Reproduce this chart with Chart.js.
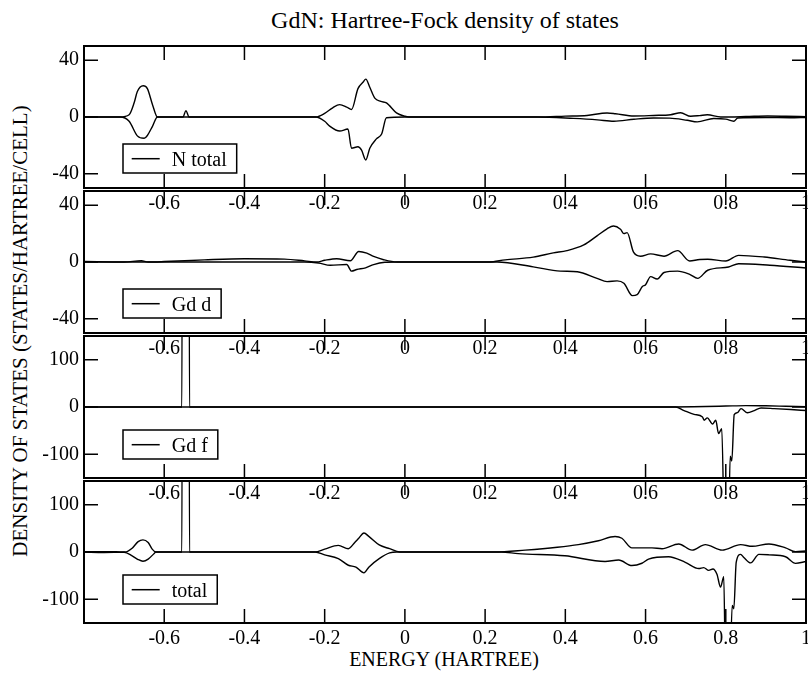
<!DOCTYPE html>
<html>
<head>
<meta charset="utf-8">
<script src="https://cdn.jsdelivr.net/npm/chart.js@4/dist/chart.umd.min.js"></script>
<style>
  html, body { margin: 0; padding: 0; background: #fff; }
  body { width: 808px; height: 673px; overflow: hidden; position: relative; font-family: "Liberation Serif", "Times New Roman", Times, serif; color: #000; }
  .panel { position: absolute; left: 0; }
  .txt { position: absolute; white-space: nowrap; line-height: 1; transform: translate(-50%, -50%); }
  #ytitle { transform: translate(-50%, -50%) rotate(-90deg); }
</style>
</head>
<body>
<div class="txt" id="title" style="left:445px; top:20px; font-size:24px;">GdN: Hartree-Fock density of states</div>
<div class="txt" id="ytitle" style="left:20px; top:331px; font-size:21px;">DENSITY OF STATES (STATES/HARTREE/CELL)</div>
<div class="txt" id="xtitle" style="left:444px; top:659px; font-size:20px;">ENERGY (HARTREE)</div>
<script>
// N total, spin up / spin down
const nUpE = [-0.8, -0.71, -0.6875, -0.675, -0.667, -0.6525, -0.642, -0.629, -0.617, -0.553, -0.546, -0.538, -0.222, -0.2, -0.18, -0.1625, -0.145, -0.133, -0.117, -0.104, -0.0975, -0.0875, -0.075, -0.06, -0.046, -0.021, 0, 0.01, 0.33, 0.4, 0.454, 0.504, 0.525, 0.571, 0.62, 0.6625, 0.6875, 0.7125, 0.735, 0.754, 0.7875, 0.85, 0.904, 0.95, 1.0];
const nUpV = [0, 0, 1.6, 10, 17.9, 22, 20, 8.5, 0, 0, 4.5, 0, 0, 2.5, 6.5, 8.7, 7, 5.3, 20, 24.6, 26.7, 21, 13.3, 11, 9.9, 2.9, 0.5, 0, 0, 0.6, 1.1, 2.8, 2.3, 0.7, 1.1, 1.6, 3, 0.5, 1, 1.6, 0, 0.3, 0.7, 0.5, 0.2];
const nDnE = [-0.8, -0.71, -0.6875, -0.667, -0.65, -0.642, -0.629, -0.617, -0.222, -0.2, -0.1875, -0.1625, -0.142, -0.133, -0.117, -0.108, -0.0975, -0.0875, -0.071, -0.058, -0.046, 0, 0.33, 0.42, 0.48, 0.521, 0.571, 0.62, 0.66, 0.704, 0.729, 0.77, 0.8, 0.82, 0.83, 0.9, 0.96, 1.0];
const nDnV = [0, 0, -3, -13.3, -15, -13, -6.4, 0, 0, -3, -6.4, -9.9, -8.5, -22, -21, -23.4, -30.3, -22, -15.4, -12, -0.5, 0, 0, -1, -2, -3, -1.6, -0.7, -0.8, -2.3, -3.4, -1.1, -1.5, -3, -0.7, -0.4, -0.5, -0.3];

// Gd d
const dUpE = [-0.8, -0.7, -0.657, -0.64, -0.6, -0.5, -0.4, -0.3, -0.25, -0.22, -0.2, -0.17, -0.136, -0.115, -0.095, -0.078, -0.053, -0.02, 0.21, 0.25, 0.32, 0.37, 0.404, 0.446, 0.479, 0.504, 0.52, 0.5375, 0.546, 0.554, 0.57, 0.5875, 0.6125, 0.646, 0.68, 0.71, 0.735, 0.755, 0.8, 0.832, 0.896, 0.96, 1.0];
const dUpV = [0.3, 0, 0.9, 0, 0.3, 1.5, 2.3, 2, 0.8, 0, 1.2, 2.3, 0.9, 7.4, 6.2, 3.9, 1.6, 0, 0, 1.5, 3.4, 6.4, 8, 12, 18.4, 23.4, 25.3, 23, 20, 20.7, 6.9, 4.1, 5.7, 4.1, 8, 0.7, 1.8, 1.9, 0.7, 4.7, 3.5, 1.2, 0];
const dDnE = [-0.8, -0.25, -0.215, -0.186, -0.145, -0.133, -0.12, -0.098, -0.078, -0.05, -0.02, 0.23, 0.32, 0.3875, 0.43, 0.479, 0.504, 0.529, 0.546, 0.567, 0.579, 0.592, 0.6, 0.6125, 0.629, 0.646, 0.68, 0.71, 0.73, 0.755, 0.807, 0.832, 0.91, 1.0];
const dDnV = [0, 0, -0.7, -2.3, -1.8, -6.4, -5.3, -4.1, -1.8, -0.2, 0, 0, -3.4, -6.4, -6.9, -11.5, -13.8, -13.3, -15, -23.7, -23, -17.2, -16, -10.3, -12, -7.4, -6.4, -8.7, -11.5, -5.8, -3.5, -1.2, -2.3, -4.2];

// Gd f
const fUpE = [-0.8, -0.556, -0.5545, -0.5385, -0.537, 0.65, 0.75, 0.8, 0.85, 0.9, 0.95, 1.0];
const fUpV = [0, 0, 700, 700, 0, 0, 1, 2, 3, 2.5, 1.5, 0.5];
const fDnE = [-0.8, 0.675, 0.696, 0.721, 0.742, 0.746, 0.754, 0.767, 0.775, 0.782, 0.79, 0.7975, 0.806, 0.811, 0.815, 0.821, 0.829, 0.838, 0.854, 0.871, 0.888, 0.921, 0.962, 1.0];
const fDnV = [0, 0, -7.5, -15.6, -21, -28, -23, -36, -28, -56, -46, -300, -300, -104, -114, -16, -12, -3.4, -12, -7.5, -2, -3.4, -5.4, -7.5];

// total
const tUpE = [-0.8, -0.72, -0.698, -0.68, -0.665, -0.653, -0.64, -0.63, -0.621, -0.556, -0.5545, -0.5385, -0.537, -0.224, -0.2, -0.166, -0.141, -0.125, -0.115, -0.102, -0.09, -0.064, -0.038, -0.013, 0.224, 0.3, 0.38, 0.4325, 0.4825, 0.524, 0.541, 0.566, 0.616, 0.641, 0.6825, 0.716, 0.749, 0.791, 0.837, 0.866, 0.9075, 0.949, 0.974, 1.0];
const tUpV = [0.5, 0.5, 0, 8, 22, 25.7, 20, 6, 0, 0, 700, 700, 0, 0, 6, 14, 7, 20, 29, 40, 33, 15, 7, 0, 0, 4, 10, 15.6, 23.8, 32.6, 29, 8.8, 8.8, 6.8, 17, 4, 15.6, 4, 15.6, 12, 17, 8.8, 0.7, 2];
const tDnE = [-0.8, -0.75, -0.7, -0.68, -0.665, -0.653, -0.64, -0.625, -0.621, -0.224, -0.2, -0.166, -0.141, -0.122, -0.102, -0.09, -0.064, -0.038, -0.02, 0.24, 0.2825, 0.399, 0.499, 0.533, 0.566, 0.591, 0.6075, 0.6575, 0.699, 0.7325, 0.745, 0.7575, 0.768, 0.778, 0.787, 0.795, 0.8, 0.809, 0.816, 0.82, 0.826, 0.837, 0.845, 0.862, 0.8825, 0.9075, 0.949, 0.974, 1.0];
const tDnV = [0, -1, -0.5, -8, -16, -19.4, -15, -3, 0, 0, -6, -14, -28, -32, -44, -32, -14, -2, 0, 0, -3.4, -8, -20, -17, -28.6, -23.8, -15, -10, -21.8, -35, -33, -38.8, -36, -47, -74, -52, -300, -300, -113, -120, -22, -5, -11.6, -23, -5, -6, -10, -24, -20];

const legendNames = ['N total', 'Gd d', 'Gd f', 'total'];
const yRanges = [50, 50, 150, 150];
const yTickSteps = [10, 10, 50, 50];
const yMinorSteps = [20, 20, 50, 50];
const yMajorSteps = [40, 40, 100, 100];

// layout
const panelTops = [43, 188, 333, 478];
const panelHeight = 145;
const padTop = 14;
const xAxisHeight = 34;
const legendGaps = [15, 15, 19, 19];
const serif = '"Liberation Serif", "Times New Roman", Times, serif';

const pts = (e, v) => e.map((x, i) => ({ x: x, y: v[i] }));
const series = [
    [pts(nUpE, nUpV), pts(nDnE, nDnV)],
    [pts(dUpE, dUpV), pts(dDnE, dDnV)],
    [pts(fUpE, fUpV), pts(fDnE, fDnV)],
    [pts(tUpE, tUpV), pts(tDnE, tDnV)],
];

Chart.defaults.font.family = serif;
Chart.defaults.font.size = 20;
Chart.defaults.color = '#000';

const framePlugin = {
    id: 'frame',
    afterDatasetsDraw(chart, args, opts) {
        const { ctx, chartArea: a, scales: { x, y } } = chart;
        ctx.save();
        ctx.strokeStyle = '#000';
        ctx.lineWidth = 1.5;
        ctx.beginPath();
        for (const t of x.ticks) {
            const n = Math.round(t.value * 10);
            const px = x.getPixelForValue(t.value);
            if (px <= a.left + 1 || px >= a.right - 1) continue;
            const len = n % 2 === 0 ? 14 : 8;
            ctx.moveTo(px, a.top); ctx.lineTo(px, a.top + len);
            ctx.moveTo(px, a.bottom); ctx.lineTo(px, a.bottom - len);
        }
        for (const t of y.ticks) {
            const v = Math.round(t.value);
            if (v % opts.minor !== 0) continue;
            const py = y.getPixelForValue(v);
            if (py <= a.top + 1 || py >= a.bottom - 1) continue;
            const len = v % opts.major === 0 ? 14 : 8;
            ctx.moveTo(a.left, py); ctx.lineTo(a.left + len, py);
            ctx.moveTo(a.right, py); ctx.lineTo(a.right - len, py);
        }
        ctx.stroke();
        ctx.lineWidth = 2;
        ctx.strokeRect(a.left, a.top, a.right - a.left, a.bottom - a.top);

        // legend box
        ctx.font = '20px ' + serif;
        const tw = ctx.measureText(opts.label).width;
        const bx = a.left + 39, bh = 29, by = a.bottom - opts.gap - bh;
        const bw = 8.7 + 28 + 12 + tw + 10;
        ctx.lineWidth = 1.5;
        ctx.fillStyle = '#fff';
        ctx.fillRect(bx, by, bw, bh);
        ctx.strokeRect(bx, by, bw, bh);
        ctx.beginPath();
        ctx.moveTo(bx + 8.7, by + 14.7);
        ctx.lineTo(bx + 36.7, by + 14.7);
        ctx.stroke();
        ctx.fillStyle = '#000';
        ctx.textBaseline = 'alphabetic';
        ctx.fillText(opts.label, bx + 48.7, by + 21.7);
        ctx.restore();
    }
};

for (let i = 0; i < 4; i++) {
    const wrap = document.createElement('div');
    wrap.className = 'panel';
    wrap.style.top = (panelTops[i] - padTop) + 'px';
    const canvas = document.createElement('canvas');
    canvas.width = 840;
    canvas.height = padTop + panelHeight + xAxisHeight;
    wrap.append(canvas);
    document.body.append(wrap);

    const lineStyle = { borderColor: '#000', borderWidth: 1.4, pointRadius: 0, fill: false, cubicInterpolationMode: 'monotone' };
    new Chart(canvas, {
        type: 'line',
        data: {
            datasets: [
                Object.assign({ label: legendNames[i] + ' up', data: series[i][0] }, lineStyle),
                Object.assign({ label: legendNames[i] + ' down', data: series[i][1] }, lineStyle),
            ]
        },
        options: {
            responsive: false,
            animation: false,
            layout: { padding: { top: padTop, right: 34, left: 0, bottom: 0 } },
            scales: {
                x: {
                    type: 'linear',
                    min: -0.8,
                    max: 1.0,
                    grid: { display: false, drawTicks: false },
                    border: { display: false },
                    ticks: {
                        stepSize: 0.1,
                        autoSkip: false,
                        maxRotation: 0,
                        padding: 4,
                        callback: v => {
                            const n = Math.round(v * 10);
                            return (n % 2 === 0 && n !== -8) ? String(n / 10) : null;
                        }
                    },
                    afterFit: s => { s.height = xAxisHeight; }
                },
                y: {
                    min: -yRanges[i],
                    max: yRanges[i],
                    grid: { display: false, drawTicks: false },
                    border: { display: false },
                    ticks: {
                        stepSize: yTickSteps[i],
                        autoSkip: false,
                        padding: 5,
                        callback: v => {
                            const r = Math.round(v);
                            return (r % yMajorSteps[i] === 0 && Math.abs(r) < yRanges[i]) ? String(r) : null;
                        }
                    },
                    afterFit: s => { s.width = 84; }
                }
            },
            plugins: {
                legend: { display: false },
                tooltip: { enabled: false },
                frame: { label: legendNames[i], gap: legendGaps[i], minor: yMinorSteps[i], major: yMajorSteps[i] }
            }
        },
        plugins: [framePlugin]
    });
}
</script>
</body>
</html>
